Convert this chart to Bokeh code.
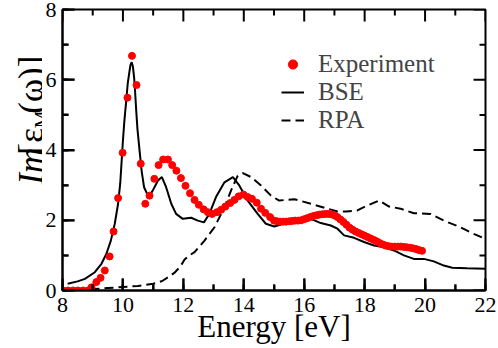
import math
from bokeh.plotting import figure
from bokeh.layouts import row
from bokeh.models import Range1d, SingleIntervalTicker, Label, Legend, LegendItem
from bokeh.embed import file_html
from bokeh.resources import INLINE

# ---------------- data ----------------
exp_energy = [8.02, 8.18, 8.35, 8.51, 8.68, 8.84, 8.96, 9.12, 9.26, 9.40, 9.56, 9.69, 9.84,
              9.99, 10.15, 10.30, 10.45, 10.59, 10.74, 10.88, 11.04, 11.18, 11.33, 11.49,
              11.63, 11.77, 11.92, 12.07, 12.22, 12.37, 12.51, 12.67, 12.81, 12.95, 13.11,
              13.25, 13.39, 13.55, 13.69, 13.83, 13.99, 14.13, 14.27, 14.43, 14.57, 14.71,
              14.87, 15.0, 15.1, 15.2, 15.3, 15.4, 15.5, 15.6, 15.7, 15.8, 15.9, 16.0, 16.1,
              16.2, 16.3, 16.4, 16.5, 16.6, 16.7, 16.8, 16.9, 17.0, 17.1, 17.2, 17.3, 17.4,
              17.5, 17.6, 17.7, 17.8, 17.9, 18.0, 18.1, 18.2, 18.3, 18.4, 18.5, 18.6, 18.7,
              18.8, 18.9, 19.0, 19.1, 19.2, 19.3, 19.4, 19.5, 19.6, 19.7, 19.8, 19.9]
exp_value = [0.0, 0.0, 0.0, 0.0, 0.0, 0.0, 0.09, 0.24, 0.36, 0.57, 0.97, 1.68, 2.63,
             3.92, 5.49, 6.68, 5.85, 3.61, 2.47, 2.70, 3.18, 3.57, 3.73, 3.73,
             3.57, 3.41, 3.20, 2.98, 2.77, 2.58, 2.44, 2.31, 2.23, 2.18, 2.23,
             2.30, 2.39, 2.49, 2.58, 2.68, 2.73, 2.66, 2.61, 2.50, 2.33, 2.21,
             2.09, 1.99, 1.97, 1.96, 1.96, 1.96, 1.97, 1.98, 1.99, 1.99, 2.00, 2.03, 2.06,
             2.09, 2.12, 2.14, 2.16, 2.17, 2.18, 2.18, 2.17, 2.14, 2.09, 2.02, 1.95, 1.87,
             1.79, 1.73, 1.68, 1.64, 1.60, 1.56, 1.52, 1.48, 1.44, 1.40, 1.35, 1.31, 1.28,
             1.26, 1.25, 1.25, 1.25, 1.25, 1.24, 1.23, 1.22, 1.20, 1.18, 1.15, 1.13]

bse_energy = [8.17, 8.5, 8.74, 9.07, 9.29, 9.45, 9.60, 9.73, 9.84, 9.91, 10.0, 10.05, 10.11,
              10.16, 10.22, 10.25, 10.29, 10.33, 10.37, 10.40, 10.44, 10.48, 10.55, 10.62,
              10.70, 10.85, 10.99, 11.16, 11.29, 11.43, 11.60, 11.76, 11.98, 12.26, 12.48,
              12.68, 12.86, 13.08, 13.36, 13.64, 13.85, 14.13, 14.46, 14.73, 15.01, 15.23,
              15.56, 15.89, 16.22, 16.55, 16.88, 17.10, 17.32, 17.65, 17.98, 18.31, 18.64,
              18.97, 19.30, 19.63, 19.96, 20.29, 20.62, 20.90, 21.39, 22.0]
bse_value = [0.19, 0.26, 0.33, 0.52, 0.76, 1.04, 1.42, 1.90, 2.47, 3.04, 4.27, 4.85, 5.41,
             5.90, 6.26, 6.42, 6.50, 6.38, 6.07, 5.70, 5.12, 4.60, 3.99, 3.40,
             2.94, 2.66, 2.85, 3.13, 3.23, 2.94, 2.47, 2.18, 2.04, 2.07, 1.99,
             1.94, 2.18, 2.66, 3.08, 3.23, 2.99, 2.56, 2.18, 1.90, 1.82, 1.88,
             1.99, 1.99, 2.04, 1.92, 1.85, 1.76, 1.57, 1.50, 1.38, 1.28, 1.23,
             1.14, 1.00, 0.90, 0.90, 0.83, 0.71, 0.65, 0.63, 0.62]

rpa_energy = [8.0, 9.0, 9.5, 10.0, 10.5, 11.0, 11.3, 11.5, 11.7, 11.9, 12.04, 12.2, 12.37,
              12.7, 13.03, 13.36, 13.58, 13.80, 13.97, 14.24, 14.57, 14.90, 15.17, 15.4,
              15.67, 16.22, 16.77, 17.10, 17.4, 17.76, 18.09, 18.48, 18.81, 19.19, 19.63,
              20.18, 20.62, 21.17, 21.61, 22.0]
rpa_value = [0.02, 0.04, 0.07, 0.10, 0.13, 0.19, 0.27, 0.38, 0.50, 0.68, 0.88, 1.00, 1.09,
             1.42, 1.80, 2.37, 2.85, 3.27, 3.34, 3.23, 2.99, 2.70, 2.56, 2.58,
             2.60, 2.47, 2.33, 2.25, 2.25, 2.28, 2.42, 2.56, 2.39, 2.33, 2.20,
             2.18, 1.99, 1.80, 1.61, 1.47]

x_ticks = [8, 10, 12, 14, 16, 18, 20, 22]
x_minor = [9, 11, 13, 15, 17, 19, 21]
y_ticks = [0, 2, 4, 6, 8]
y_minor = [1, 3, 5, 7]

FONT = "Liberation Serif"
W, H = 498, 348
LW = 42          # width of the strip holding the y-axis title
X0, X1, Y0, Y1 = 8, 22, 0, 8
FRAME_W, FRAME_H = 424, 281      # plot-area size in pixels
BORDER_L = 61 - LW
BORDER_R = W - LW - BORDER_L - FRAME_W
BORDER_T = 9
BORDER_B = H - BORDER_T - FRAME_H

# ---------------- y-axis title strip ----------------
lab = figure(width=LW, height=H, x_range=Range1d(0, LW), y_range=Range1d(H, 0),
             output_backend="svg", toolbar_location=None,
             x_axis_location=None, y_axis_location=None,
             min_border=0, min_border_left=0, min_border_right=0,
             min_border_top=0, min_border_bottom=0)
lab.grid.visible = False
lab.outline_line_color = None
lab.border_fill_color = None
lab.background_fill_color = None

ylab = [("Im", 217, 31.2, "35px", "italic"),
        ("[", 180, 31.2, "35px", "normal"),
        ("\u03b5", 165, 31.2, "35px", "normal"),
        ("M", 147, 41, "20px", "normal"),
        ("(\u03c9)]", 129, 31.2, "35px", "normal")]
for txt, py, px, fs, st in ylab:
    lab.add_layout(Label(x=px, y=py, text=txt, angle=math.pi / 2,
                         text_align="left", text_baseline="alphabetic",
                         text_font=FONT, text_font_size=fs, text_font_style=st,
                         text_color="black"))

# ---------------- main plot ----------------
p = figure(width=W - LW, height=H, x_range=Range1d(X0, X1), y_range=Range1d(Y0, Y1),
           output_backend="svg", toolbar_location=None,
           min_border_left=BORDER_L, min_border_right=BORDER_R,
           min_border_top=BORDER_T, min_border_bottom=BORDER_B)
p.grid.visible = False
p.outline_line_color = "black"
p.outline_line_width = 2
p.background_fill_color = None
p.border_fill_color = None

p.xaxis.ticker = SingleIntervalTicker(interval=2, num_minor_ticks=2)
p.yaxis.ticker = SingleIntervalTicker(interval=2, num_minor_ticks=2)

for ax in p.axis:
    ax.axis_line_color = "black"
    ax.axis_line_width = 2
    ax.major_tick_in = 12
    ax.major_tick_out = 0
    ax.minor_tick_in = 6
    ax.minor_tick_out = 0
    ax.major_tick_line_color = "black"
    ax.minor_tick_line_color = "black"
    ax.major_tick_line_width = 2
    ax.minor_tick_line_width = 2
    ax.major_label_text_font = FONT
    ax.major_label_text_color = "black"
    ax.major_label_text_font_size = "22px"

bx = p.below[0]
ly = p.left[0]
bx.major_label_standoff = 7
ly.major_label_standoff = 6

bx.axis_label = "Energy [eV]"
bx.axis_label_text_font = FONT
bx.axis_label_text_font_size = "31px"
bx.axis_label_text_font_style = "normal"
bx.axis_label_text_color = "black"
bx.axis_label_standoff = -6

# ---------------- data renderers ----------------
r_rpa = p.line(rpa_energy, rpa_value, line_color="black", line_width=2, line_dash="9 5")
r_bse = p.line(bse_energy, bse_value, line_color="black", line_width=2)
r_exp = p.scatter(exp_energy, exp_value, size=7, fill_color="red", line_color="red")

# inward tick marks on all four sides (12 px major, 6 px minor), one broken polyline
NAN = float("nan")
dy_px = (Y1 - Y0) / FRAME_H
dx_px = (X1 - X0) / FRAME_W
tick_x, tick_y = [], []
for xs, n in ((x_ticks, 12), (x_minor, 6)):
    for x in xs:
        tick_x += [x, x, NAN, x, x, NAN]
        tick_y += [Y0, Y0 + n * dy_px, NAN, Y1, Y1 - n * dy_px, NAN]
for ys, n in ((y_ticks, 12), (y_minor, 6)):
    for y in ys:
        tick_x += [X0, X0 + n * dx_px, NAN, X1, X1 - n * dx_px, NAN]
        tick_y += [y, y, NAN, y, y, NAN]
p.line(tick_x, tick_y, line_color="black", line_width=2)

legend = Legend(items=[LegendItem(label="Experiment", renderers=[r_exp]),
                       LegendItem(label="BSE", renderers=[r_bse]),
                       LegendItem(label="RPA", renderers=[r_rpa])],
                location=(219, 156), padding=0, margin=0, spacing=0,
                glyph_width=23, glyph_height=24, label_height=24, label_standoff=14,
                label_text_font=FONT, label_text_font_size="25px",
                border_line_alpha=0, background_fill_alpha=0)
p.add_layout(legend, "center")

open("out.html", "w").write(file_html(row(lab, p, spacing=0), INLINE))
